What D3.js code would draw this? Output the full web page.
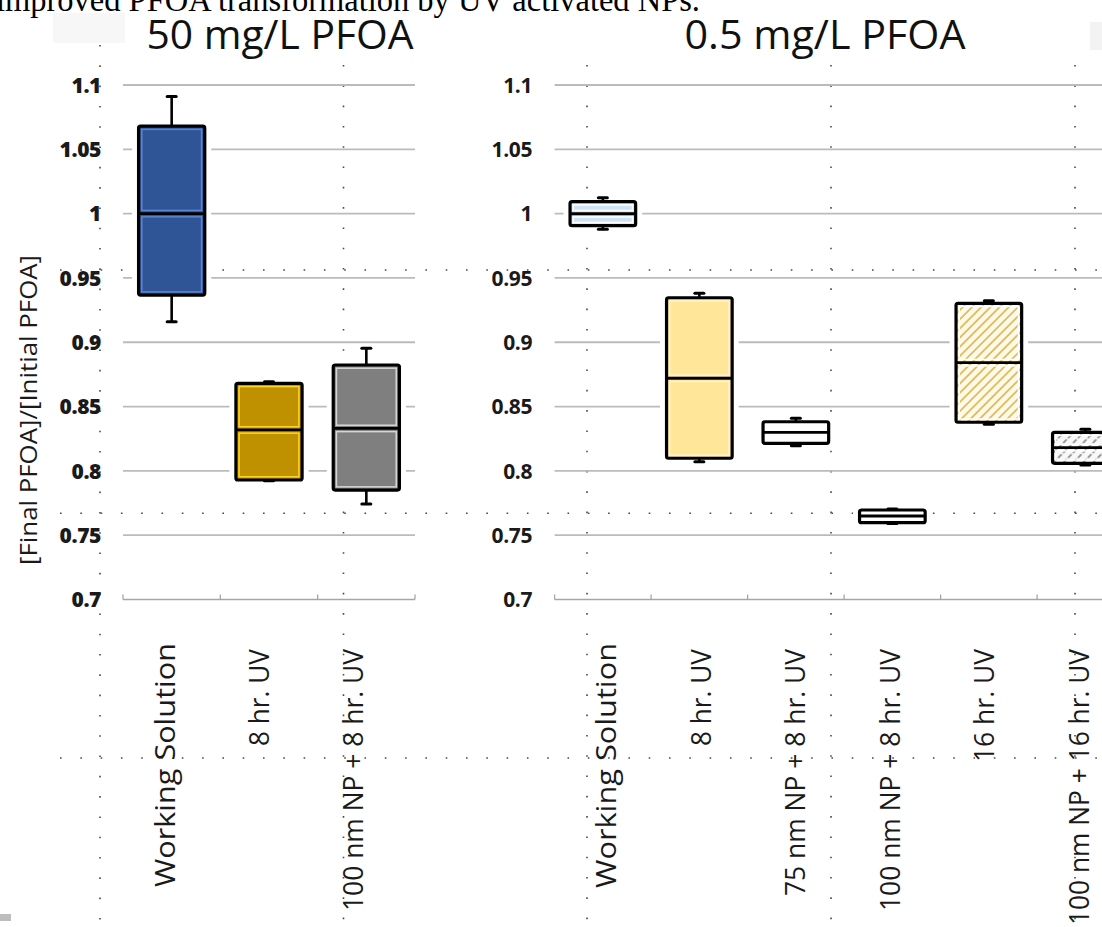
<!DOCTYPE html>
<html><head><meta charset="utf-8">
<script src="https://cdn.jsdelivr.net/npm/d3@7"></script>
<style>body{margin:0;background:#fff;overflow:hidden} svg{display:block}</style>
</head><body>
<svg id="chart" width="1102" height="927"></svg>
<script>
// ---------------- DATA ----------------
const caption = "improved PFOA transformation by UV activated NPs.";
const leftTitle = "50 mg/L PFOA";
const rightTitle = "0.5 mg/L PFOA";
const yAxisTitle = "[Final PFOA]/[Initial PFOA]";
const yTicks = [0.7, 0.75, 0.8, 0.85, 0.9, 0.95, 1, 1.05, 1.1];
const yTickLabels = ["0.7", "0.75", "0.8", "0.85", "0.9", "0.95", "1", "1.05", "1.1"];

const leftCategories = ["Working Solution", "8 hr. UV", "100 nm NP + 8 hr. UV"];
const leftMin    = [0.916, 0.7924, 0.7742];
const leftQ1     = [0.9367, 0.7929, 0.7851];
const leftMedian = [1.000, 0.8318, 0.8330];
const leftQ3     = [1.068, 0.8680, 0.8823];
const leftMax    = [1.091, 0.8693, 0.8953];

const rightCategories = ["Working Solution", "8 hr. UV", "75 nm NP + 8 hr. UV",
                         "100 nm NP + 8 hr. UV", "16 hr. UV", "100 nm NP + 16 hr. UV"];
const rightMin    = [0.9878, 0.8071, 0.8196, 0.7591, 0.8362, 0.8046];
const rightQ1     = [0.9906, 0.8098, 0.8214, 0.7597, 0.8378, 0.8059];
const rightMedian = [0.9999, 0.8720, 0.8300, 0.7649, 0.8841, 0.8180];
const rightQ3     = [1.0093, 0.9346, 0.8382, 0.7696, 0.9303, 0.8300];
const rightMax    = [1.0124, 0.9380, 0.8409, 0.7704, 0.9323, 0.8323];

// ---------------- STYLE ----------------
const leftFills  = ["#2F5597", "#BF9000", "#7F7F7F"];
const leftHl     = ["#5C86D2", "#FFD51E", "#D6D6D6"];
const rightFills = ["#CFE3F6", "#FFE699", "#FFFFFF", "#FFFFFF", "url(#hatchGold)", "url(#hatchGray)"];
const rightHl    = ["#FFFFFF", "#FFF4CF", "#FFFFFF", "#FFFFFF", "#FFFFFF", "#FFFFFF"];
const leftLabelLen  = [244, 97, 262];
const rightLabelLen = [245, 97, 247, 262, 113, 276];
const FONT = "'Open Sans', 'Noto Sans', sans-serif";

const svg = d3.select("#chart");
svg.append("rect").attr("width", 1102).attr("height", 927).attr("fill", "#fff");

// defs: hatch patterns
const defs = svg.append("defs");
const pg = defs.append("pattern").attr("id", "hatchGold").attr("patternUnits", "userSpaceOnUse")
  .attr("width", 6.5).attr("height", 6.5).attr("patternTransform", "rotate(45)");
pg.append("rect").attr("width", 6.5).attr("height", 6.5).attr("fill", "#FFFAE8");
pg.append("line").attr("x1", 1).attr("y1", 0).attr("x2", 1).attr("y2", 6.5)
  .attr("stroke", "#D9B44E").attr("stroke-width", 1.6);
const pgr = defs.append("pattern").attr("id", "hatchGray").attr("patternUnits", "userSpaceOnUse")
  .attr("width", 7).attr("height", 7).attr("patternTransform", "rotate(45)");
pgr.append("rect").attr("width", 7).attr("height", 7).attr("fill", "#F8F8F8");
pgr.append("line").attr("x1", 1).attr("y1", 0).attr("x2", 1).attr("y2", 7)
  .attr("stroke", "#7A7A7A").attr("stroke-width", 1.5).attr("stroke-dasharray", "2.5 2");

// faint page artefacts
svg.append("rect").attr("x", 53).attr("y", 13).attr("width", 72).attr("height", 30).attr("fill", "#F7F7F7");
svg.append("rect").attr("x", 1090).attr("y", 22).attr("width", 12).attr("height", 28).attr("fill", "#F3F3F3");
svg.append("rect").attr("x", 0).attr("y", 914).attr("width", 11).attr("height", 7).attr("fill", "#BDBDBD");

// caption (cut at top)
svg.append("text").attr("x", -4).attr("y", 11).attr("text-anchor", "start")
  .attr("font-family", "'Liberation Serif', 'Times New Roman', serif").attr("font-size", 33)
  .attr("textLength", 704).attr("lengthAdjust", "spacingAndGlyphs")
  .attr("fill", "#000").text(caption);

// document dotted grid
const dots = svg.append("g").attr("stroke", "#4a4a4a").attr("stroke-width", 1.6)
  .attr("stroke-dasharray", "1.6 18.7").attr("fill", "none");
[270, 513.3, 758].forEach(yy => dots.append("line").attr("x1", 60).attr("x2", 1102).attr("y1", yy).attr("y2", yy));
[[100, 45], [343.5, 65], [587, 65], [831, 65], [1075, 65]].forEach(([xx, y0]) =>
  dots.append("line").attr("x1", xx).attr("x2", xx).attr("y1", y0).attr("y2", 927));

// scales
const y = d3.scaleLinear().domain([0.7, 1.1]).range([599.5, 85]);
const xL = d3.scaleBand().domain(leftCategories).range([123, 415]);
const xR = d3.scaleBand().domain(rightCategories).range([554.6, 1133.6]);
const labL = d3.scalePoint().domain(leftCategories).range([175, 363]);
const labR = d3.scalePoint().domain(rightCategories).range([616, 1088.5]);

function panel(xs, labS, cats, mins, q1s, meds, q3s, maxs, fills, hls, labLens, labelX, tickWeight) {
  const [r0, r1] = xs.range();
  const g = svg.append("g");
  // gridlines
  g.append("g").selectAll("line").data(yTicks.filter(t => t > 0.7)).join("line")
    .attr("x1", r0).attr("x2", r1).attr("y1", d => y(d)).attr("y2", d => y(d))
    .attr("stroke", "#BBBBBB").attr("stroke-width", 1.8);
  // x axis line with upward ticks at band boundaries
  const y0 = y(0.7);
  const bounds = cats.map(c => xs(c)).concat([r1]);
  g.append("line").attr("x1", r0).attr("x2", r1).attr("y1", y0).attr("y2", y0)
    .attr("stroke", "#A6A6A6").attr("stroke-width", 1.6);
  g.append("g").selectAll("line").data(bounds).join("line")
    .attr("x1", d => d).attr("x2", d => d).attr("y1", y0).attr("y2", y0 - 5)
    .attr("stroke", "#A6A6A6").attr("stroke-width", 1.3);
  // y axis labels
  const ax = d3.axisLeft(y).tickValues(yTicks).tickFormat((d, i) => yTickLabels[i]).tickSize(0).tickPadding(0);
  const axg = g.append("g").attr("transform", `translate(${labelX},0)`).call(ax);
  axg.select(".domain").remove();
  axg.selectAll("text").attr("font-family", FONT).attr("font-size", 21)
    .attr("font-weight", tickWeight).attr("fill", "#1a1a1a").attr("dy", "0.35em").attr("letter-spacing", -0.4);

  // boxes
  const bw = xs.bandwidth() * 0.68;
  cats.forEach((c, i) => {
    const cx = xs(c) + xs.bandwidth() / 2;
    const x0 = cx - bw / 2;
    const yq3 = y(q3s[i]), yq1 = y(q1s[i]), ym = y(meds[i]), ymax = y(maxs[i]), ymin = y(mins[i]);
    const b = g.append("g");
    // white halo
    b.append("rect").attr("x", x0).attr("y", yq3).attr("width", bw).attr("height", yq1 - yq3)
      .attr("fill", "#fff").attr("stroke", "#fff").attr("stroke-width", 13).attr("stroke-linejoin", "round");
    [[ymax, yq3], [ymin, yq1]].forEach(([a, e]) => {
      b.append("line").attr("x1", cx).attr("x2", cx).attr("y1", a).attr("y2", e)
        .attr("stroke", "#fff").attr("stroke-width", 9);
      b.append("line").attr("x1", cx - 7).attr("x2", cx + 7).attr("y1", a).attr("y2", a)
        .attr("stroke", "#fff").attr("stroke-width", 9);
    });
    // whiskers
    [[ymax, yq3], [ymin, yq1]].forEach(([a, e]) => {
      b.append("line").attr("x1", cx).attr("x2", cx).attr("y1", a).attr("y2", e)
        .attr("stroke", "#000").attr("stroke-width", 2.6);
      b.append("line").attr("x1", cx - 4.5).attr("x2", cx + 4.5).attr("y1", a).attr("y2", a)
        .attr("stroke", "#000").attr("stroke-width", 3).attr("stroke-linecap", "round");
    });
    // fill
    b.append("rect").attr("x", x0).attr("y", yq3).attr("width", bw).attr("height", yq1 - yq3)
      .attr("fill", fills[i]);
    // inner highlights (upper & lower halves)
    const ins = 3.2;
    [[yq3, ym], [ym, yq1]].forEach(([t, bt]) => {
      const h = bt - t - 2 * ins;
      if (h > 0.5) b.append("rect").attr("x", x0 + ins).attr("y", t + ins)
        .attr("width", bw - 2 * ins).attr("height", h)
        .attr("fill", "none").attr("stroke", hls[i]).attr("stroke-width", 1.5);
    });
    // outer border
    b.append("rect").attr("x", x0).attr("y", yq3).attr("width", bw).attr("height", yq1 - yq3)
      .attr("rx", 2).attr("fill", "none").attr("stroke", "#000").attr("stroke-width", 3.2);
    // median
    b.append("line").attr("x1", x0).attr("x2", x0 + bw).attr("y1", ym).attr("y2", ym)
      .attr("stroke", "#000").attr("stroke-width", 2.8);
  });

  // category labels (rotated)
  g.append("g").selectAll("text").data(cats).join("text")
    .attr("text-anchor", "end").attr("font-family", FONT).attr("font-size", 28)
    .attr("fill", "#1a1a1a")
    .attr("textLength", (d, i) => labLens[i]).attr("lengthAdjust", "spacingAndGlyphs")
    .attr("transform", (d, i) => `translate(${labS(d)},${i === 0 ? 643 : 649}) rotate(-90)`)
    .text(d => d);
}

panel(xL, labL, leftCategories, leftMin, leftQ1, leftMedian, leftQ3, leftMax, leftFills, leftHl, leftLabelLen, 101, 800);
panel(xR, labR, rightCategories, rightMin, rightQ1, rightMedian, rightQ3, rightMax, rightFills, rightHl, rightLabelLen, 532, 700);

// titles
svg.append("text").attr("x", 280).attr("y", 49).attr("text-anchor", "middle")
  .attr("font-family", FONT).attr("font-size", 40).attr("fill", "#111")
  .attr("textLength", 267).attr("lengthAdjust", "spacingAndGlyphs").text(leftTitle);
svg.append("text").attr("x", 825).attr("y", 49).attr("text-anchor", "middle")
  .attr("font-family", FONT).attr("font-size", 40).attr("fill", "#111")
  .attr("textLength", 281).attr("lengthAdjust", "spacingAndGlyphs").text(rightTitle);

// y axis title
svg.append("text").attr("transform", "translate(37,410) rotate(-90)").attr("text-anchor", "middle")
  .attr("font-family", FONT).attr("font-size", 24).attr("fill", "#1a1a1a")
  .attr("textLength", 310).attr("lengthAdjust", "spacingAndGlyphs").text(yAxisTitle);
</script>
</body></html>
